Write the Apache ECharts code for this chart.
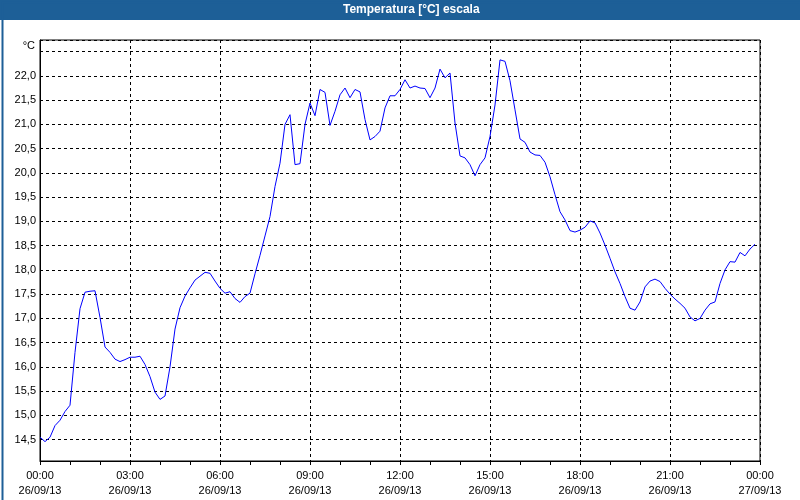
<!DOCTYPE html>
<html>
<head>
<meta charset="utf-8">
<script src="https://cdn.jsdelivr.net/npm/echarts@6/dist/echarts.min.js"></script>
<style>
html,body{margin:0;padding:0;background:#fff;}
#c{width:800px;height:500px;}
</style>
</head>
<body>
<div id="c"></div>
<script>
// Temperature readings every 10 minutes from 00:00 26/09/13
const startHour = 0;
const stepMinutes = 10;
const temps = [
  14.55, 14.46, 14.55, 14.79, 14.90, 15.08, 15.21, 16.30, 17.20, 17.54,
  17.56, 17.57, 17.02, 16.41, 16.30, 16.16, 16.11, 16.15, 16.20, 16.20,
  16.22, 16.05, 15.80, 15.48, 15.33, 15.40, 16.00, 16.78, 17.22, 17.46,
  17.63, 17.79, 17.87, 17.95, 17.93, 17.77, 17.62, 17.52, 17.55, 17.41,
  17.33, 17.45, 17.52, 17.92, 18.30, 18.70, 19.10, 19.72, 20.20, 21.00,
  21.20, 20.17, 20.19, 21.00, 21.44, 21.18, 21.72, 21.66, 20.98, 21.27,
  21.61, 21.75, 21.55, 21.72, 21.67, 21.10, 20.68, 20.75, 20.86, 21.34,
  21.59, 21.59, 21.72, 21.92, 21.75, 21.79, 21.75, 21.74, 21.55, 21.75,
  22.14, 21.96, 22.06, 21.03, 20.35, 20.31, 20.17, 19.94, 20.17, 20.31,
  20.75, 21.40, 22.33, 22.30, 21.90, 21.30, 20.70, 20.63, 20.43, 20.37,
  20.36, 20.22, 19.92, 19.55, 19.20, 19.03, 18.81, 18.78, 18.82, 18.88,
  19.01, 18.97, 18.76, 18.51, 18.24, 17.96, 17.72, 17.45, 17.21, 17.17,
  17.34, 17.65, 17.77, 17.81, 17.76, 17.62, 17.50, 17.40, 17.31, 17.21,
  17.03, 16.95, 17.00, 17.17, 17.30, 17.34, 17.72, 18.00, 18.17, 18.16,
  18.36, 18.29, 18.43, 18.53
];
const xTickTimes = ['00:00','03:00','06:00','09:00','12:00','15:00','18:00','21:00','00:00'];
const xTickDates = ['26/09/13','26/09/13','26/09/13','26/09/13','26/09/13','26/09/13','26/09/13','26/09/13','27/09/13'];
const yMin = 14.06, yMax = 22.74, yStep = 0.5;
const yLabelMin = 14.5, yLabelMax = 22.0;

const seriesData = temps.map((v, i) => [startHour + i * stepMinutes / 60, v]);

const chart = echarts.init(document.getElementById('c'), null, {renderer: 'canvas'});
const font = 'Liberation Sans';
chart.setOption({
  animation: false,
  backgroundColor: '#ffffff',
  textStyle: {fontFamily: font},
  graphic: [
    {type: 'rect', left: 0, top: 0, shape: {width: 800, height: 20}, style: {fill: '#1d5f97'}, silent: true},
    {type: 'rect', left: 0, top: 0, shape: {width: 799, height: 499}, style: {fill: 'none', stroke: '#1d5f97', lineWidth: 2}, silent: true},
    {type: 'text', left: 343, top: 4, style: {text: 'Temperatura [°C] escala', fill: '#ffffff', font: 'bold 12px ' + font}, silent: true}
  ],
  grid: {left: 40, right: 40, top: 40, bottom: 39, show: true, borderColor: '#000', borderWidth: 1, backgroundColor: 'transparent'},
  xAxis: {
    type: 'value', min: 0, max: 24, interval: 3,
    axisLine: {show: true, lineStyle: {color: '#000', width: 1}},
    axisTick: {show: true, length: 4, lineStyle: {color: '#000'}},
    minorTick: {show: true, splitNumber: 3, length: 4, lineStyle: {color: '#000'}},
    splitLine: {show: true, lineStyle: {color: '#000', type: [3, 3], width: 1}},
    axisLabel: {
      color: '#000', fontSize: 11, lineHeight: 15, margin: 7, fontFamily: font,
      formatter: v => { const k = Math.round(v / 3); return xTickTimes[k] + '\n' + xTickDates[k]; }
    }
  },
  yAxis: {
    type: 'value', min: yMin, max: yMax, minInterval: yStep, maxInterval: yStep, splitNumber: 17,
    name: '°C', nameLocation: 'end', nameGap: -6,
    nameTextStyle: {color: '#000', fontSize: 11, align: 'right', verticalAlign: 'middle', padding: [0, 5, 0, 0], fontFamily: font},
    axisLine: {show: true, lineStyle: {color: '#000', width: 1}},
    axisTick: {show: false},
    splitLine: {show: true, lineStyle: {color: '#000', type: [3, 3], width: 1}},
    axisLabel: {
      color: '#000', fontSize: 11, margin: 4, fontFamily: font,
      formatter: v => (v < yLabelMin - 0.01 || v > yLabelMax + 0.01) ? '' : v.toFixed(1).replace('.', ',')
    }
  },
  series: [{
    type: 'line', data: seriesData, showSymbol: false, symbol: 'none',
    lineStyle: {color: '#0000ff', width: 1}, smooth: false
  }]
});
</script>
</body>
</html>
